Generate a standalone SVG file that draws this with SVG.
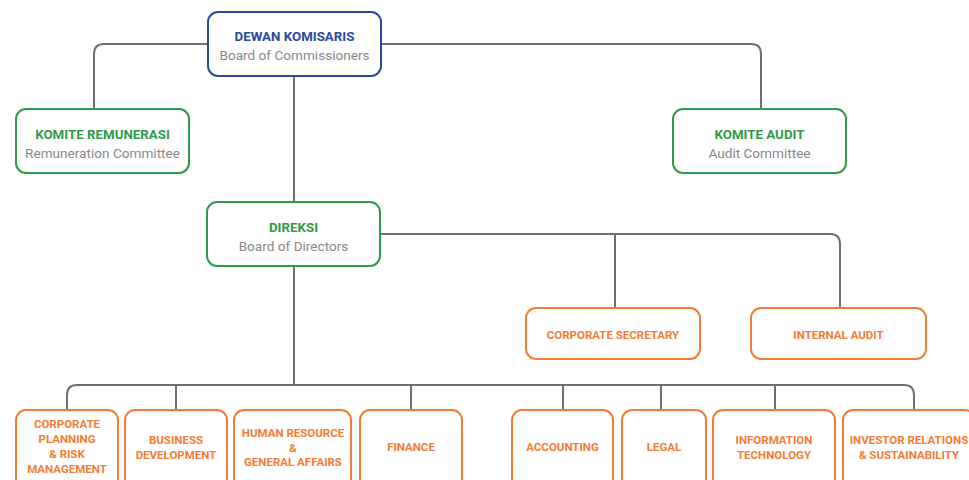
<svg xmlns="http://www.w3.org/2000/svg" width="969" height="480" viewBox="0 0 969 480">
<style>
.box{fill:#fff;stroke-width:2}
.blue{stroke:#2a4a9f}
.green{stroke:#2f9a4a}
.orange{stroke:#f47c34}
.t{font-family:Roboto,"Liberation Sans",sans-serif;text-anchor:middle}
.tb{font-weight:bold;font-size:13.3px}
.tbb{fill:#2a4a9f}
.tg{fill:#2f9a4a}
.sub{font-size:13.6px;fill:#888}
.to{fill:#f47c34;font-weight:bold;font-size:11.5px}
.conn{fill:none;stroke:#707070;stroke-width:2}
</style>
<g id="connectors" class="conn">
<path d="M208 44 H104 Q94 44 94 54 V109"/>
<path d="M381 44 H751 Q761 44 761 54 V109"/>
<path d="M294 76 V202"/>
<path d="M380 234 H830 Q840 234 840 244 V308"/>
<path d="M615 234 V308"/>
<path d="M294 266 V385"/>
<path d="M67 410 V395 Q67 385 77 385 H904 Q914 385 914 395 V410"/>
<path d="M176 385 V410 M411 385 V410 M563 385 V410 M661 385 V410 M775 385 V410"/>
</g>
<g id="dewan-komisaris">
<rect class="box blue" x="208" y="12" width="173" height="64" rx="10"/>
<text class="t tb tbb" x="294.5" y="41">DEWAN KOMISARIS</text>
<text class="t sub" x="294.5" y="60">Board of Commissioners</text>
</g>
<g id="komite-remunerasi">
<rect class="box green" x="16" y="109" width="173" height="64" rx="10"/>
<text class="t tb tg" x="102.5" y="139">KOMITE REMUNERASI</text>
<text class="t sub" x="102.5" y="158">Remuneration Committee</text>
</g>
<g id="komite-audit">
<rect class="box green" x="673" y="109" width="173" height="64" rx="10"/>
<text class="t tb tg" x="759.5" y="139">KOMITE AUDIT</text>
<text class="t sub" x="759.5" y="158">Audit Committee</text>
</g>
<g id="direksi">
<rect class="box green" x="207" y="202" width="173" height="64" rx="10"/>
<text class="t tb tg" x="293.5" y="232">DIREKSI</text>
<text class="t sub" x="293.5" y="251">Board of Directors</text>
</g>
<g id="corporate-secretary">
<rect class="box orange" x="526" y="308" width="174" height="51" rx="10"/>
<text class="t to" x="613" y="339">CORPORATE SECRETARY</text>
</g>
<g id="internal-audit">
<rect class="box orange" x="751" y="308" width="175" height="51" rx="10"/>
<text class="t to" x="838.5" y="339">INTERNAL AUDIT</text>
</g>
<g id="corporate-planning">
<rect class="box orange" x="16" y="410" width="102" height="80" rx="10"/>
<text class="t to" x="67" y="428">CORPORATE</text>
<text class="t to" x="67" y="443">PLANNING</text>
<text class="t to" x="67" y="458">&amp; RISK</text>
<text class="t to" x="67" y="473">MANAGEMENT</text>
</g>
<g id="business-development">
<rect class="box orange" x="125" y="410" width="102" height="80" rx="10"/>
<text class="t to" x="176" y="444">BUSINESS</text>
<text class="t to" x="176" y="459">DEVELOPMENT</text>
</g>
<g id="human-resource">
<rect class="box orange" x="234" y="410" width="117" height="80" rx="10"/>
<text class="t to" x="293" y="437">HUMAN RESOURCE</text>
<text class="t to" x="293" y="452">&amp;</text>
<text class="t to" x="293" y="466">GENERAL AFFAIRS</text>
</g>
<g id="finance">
<rect class="box orange" x="360" y="410" width="102" height="80" rx="10"/>
<text class="t to" x="411" y="451">FINANCE</text>
</g>
<g id="accounting">
<rect class="box orange" x="512" y="410" width="101" height="80" rx="10"/>
<text class="t to" x="562.5" y="451">ACCOUNTING</text>
</g>
<g id="legal">
<rect class="box orange" x="622" y="410" width="84" height="80" rx="10"/>
<text class="t to" x="664" y="451">LEGAL</text>
</g>
<g id="information-technology">
<rect class="box orange" x="713" y="410" width="122" height="80" rx="10"/>
<text class="t to" x="774" y="444">INFORMATION</text>
<text class="t to" x="774" y="459">TECHNOLOGY</text>
</g>
<g id="investor-relations">
<rect class="box orange" x="843" y="410" width="132" height="80" rx="10"/>
<text class="t to" x="909" y="444">INVESTOR RELATIONS</text>
<text class="t to" x="909" y="459">&amp; SUSTAINABILITY</text>
</g>
</svg>
